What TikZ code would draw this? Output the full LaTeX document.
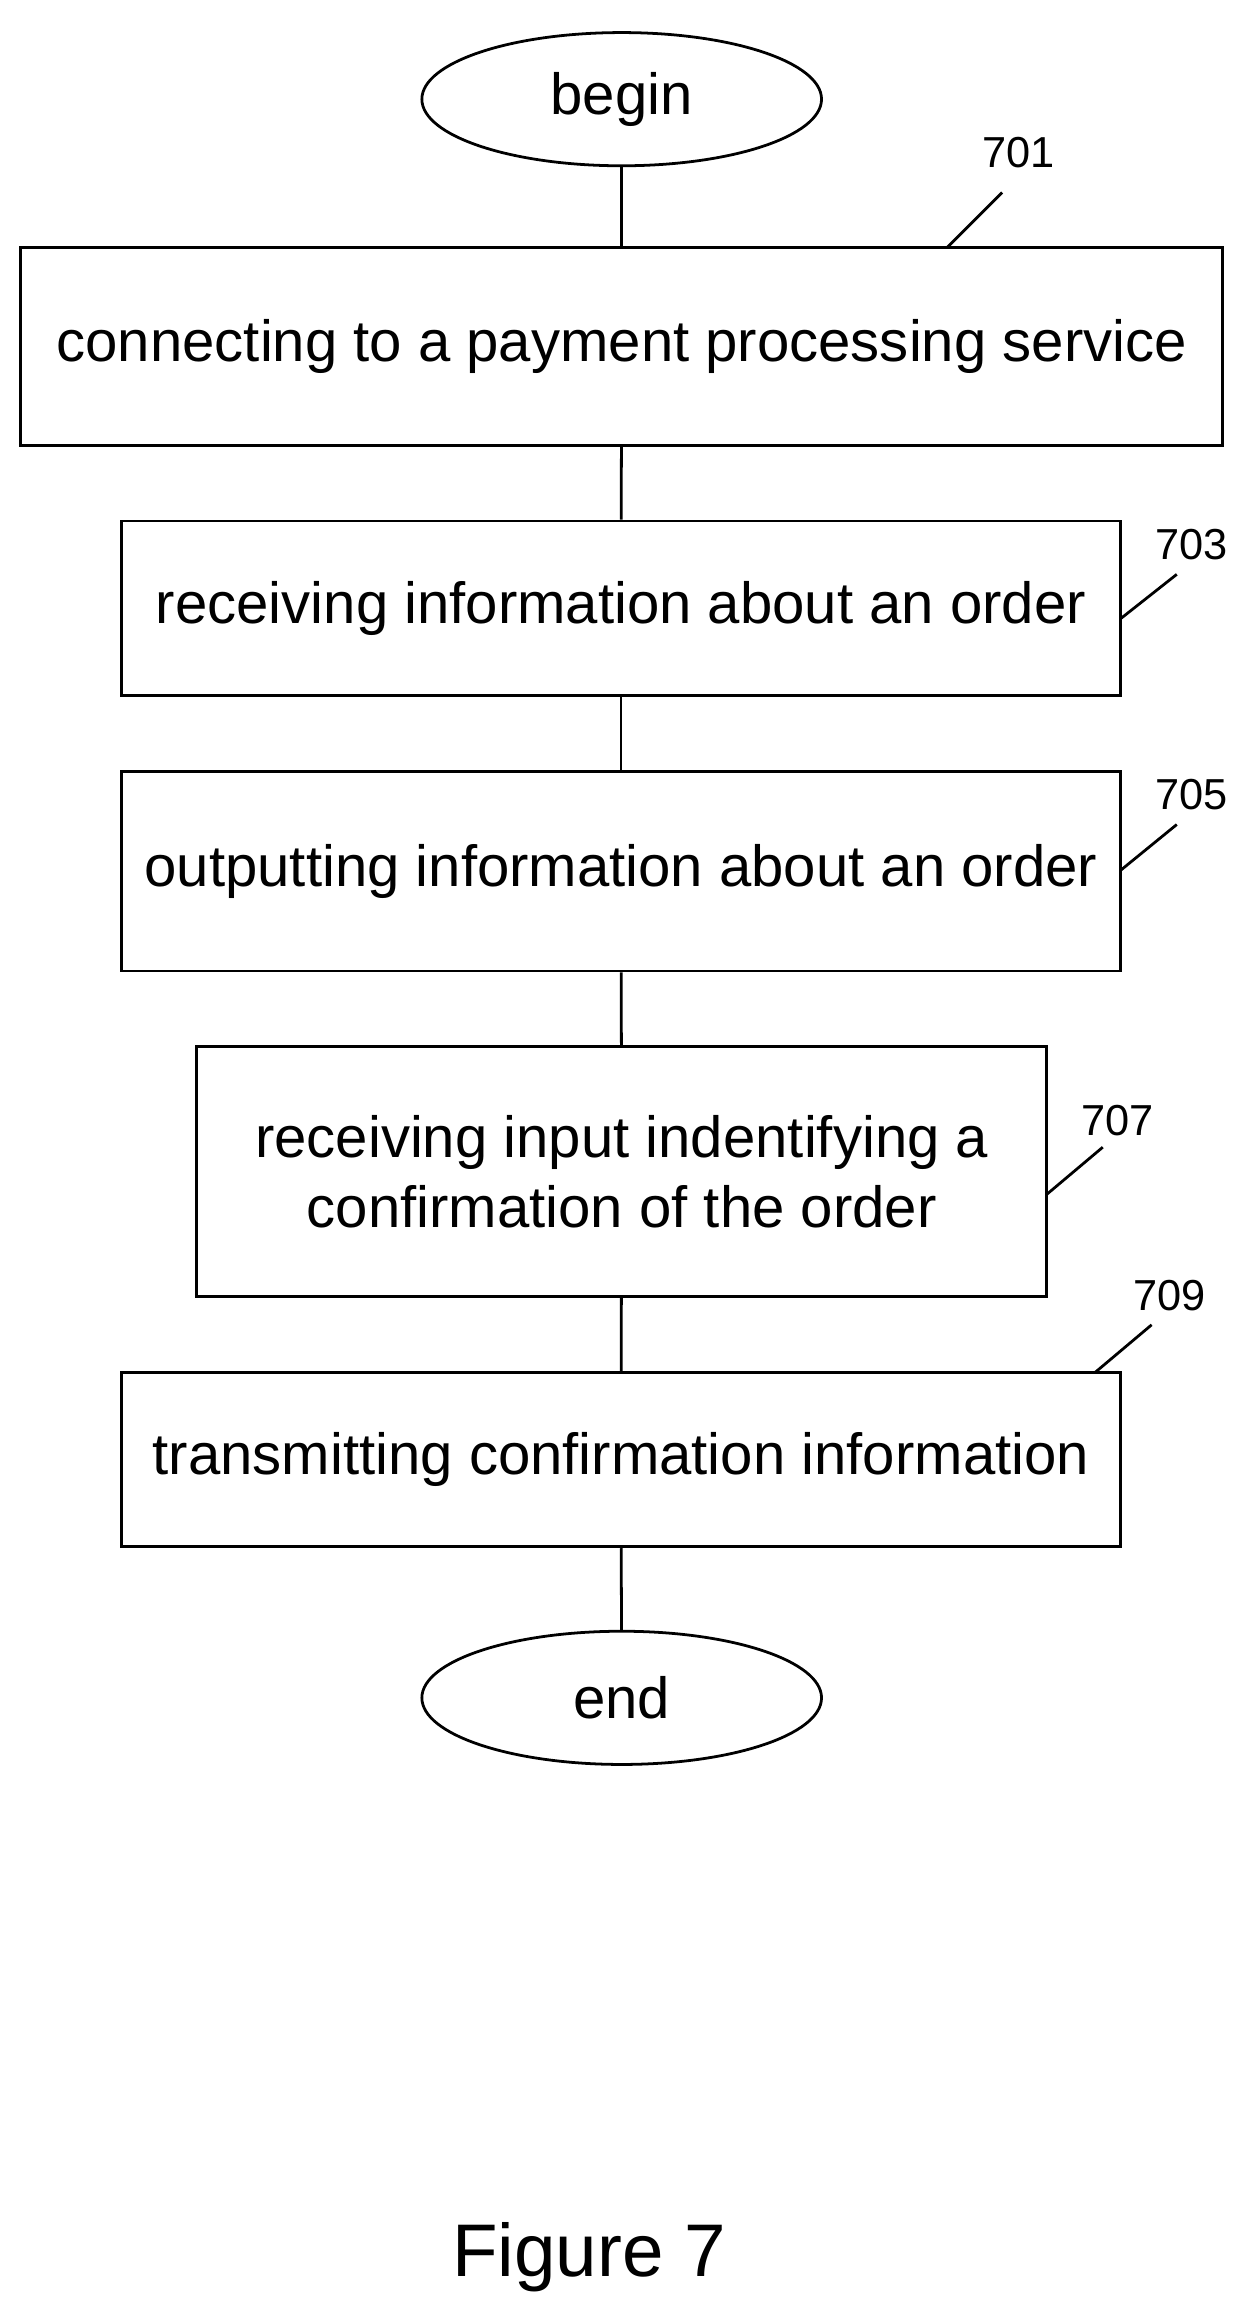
\documentclass[tikz,border=0pt]{standalone}
\usepackage{fontspec}
\setmainfont{Liberation Sans}
\usetikzlibrary{positioning,shapes.geometric}
\tikzset{
  stage/.style={draw=black, line width=1.6pt, font=\fontsize{33.5}{40}\selectfont, align=center, inner sep=0pt},
  term/.style={ellipse, draw=black, line width=1.6pt, font=\fontsize{33.5}{40}\selectfont, minimum width=270*0.03cm, minimum height=90*0.03cm},
  ref/.style={font=\fontsize{25}{30}\selectfont},
  lead/.style={line width=1.6pt}
}
\begin{document}
\begin{tikzpicture}[x=0.03cm, y=-0.03cm, line width=1.6pt]
	\useasboundingbox (0,0) rectangle (846,1568);
	\node [term] (begin) at (420,67) {begin};
	\node [stage, minimum width=812*0.03cm, minimum height=134*0.03cm] (s701) at (420,234) {connecting to a payment processing service};
	\node [stage, minimum width=675*0.03cm, minimum height=118*0.03cm] (s703) at (419.5,411) {receiving information about an order};
	\node [stage, minimum width=675*0.03cm, minimum height=135*0.03cm] (s705) at (419.5,588.5) {outputting information about an order};
	\node [stage, minimum width=574*0.03cm, minimum height=169*0.03cm] (s707) at (420,791.5) {receiving input indentifying a\\confirmation of the order};
	\node [stage, minimum width=675*0.03cm, minimum height=118*0.03cm] (s709) at (419.5,986) {transmitting confirmation information};
	\node [term] (end) at (420,1147) {end};
	% flow
	\draw (begin) -- (s701);
	\draw (s701) -- (s703);
	\draw (s703) -- (s705);
	\draw (s705) -- (s707);
	\draw (s707) -- (s709);
	\draw (s709) -- (end);
	% reference numerals
	\node [ref] (n701) at (688,103) {701};
	\node [ref] (n703) at (805,368) {703};
	\node [ref] (n705) at (805,537) {705};
	\node [ref] (n707) at (755,757) {707};
	\node [ref] (n709) at (790,875) {709};
	\draw [lead] (640,167) -- (677,130);
	\draw [lead] (757,418) -- (795,388);
	\draw [lead] (757,588) -- (795,557);
	\draw [lead] (707,807) -- (745,775);
	\draw [lead] (740,927) -- (778,895);
	\node [font=\fontsize{43}{50}\selectfont] (fig) at (398,1525) {Figure 7};
\end{tikzpicture}
\end{document}
